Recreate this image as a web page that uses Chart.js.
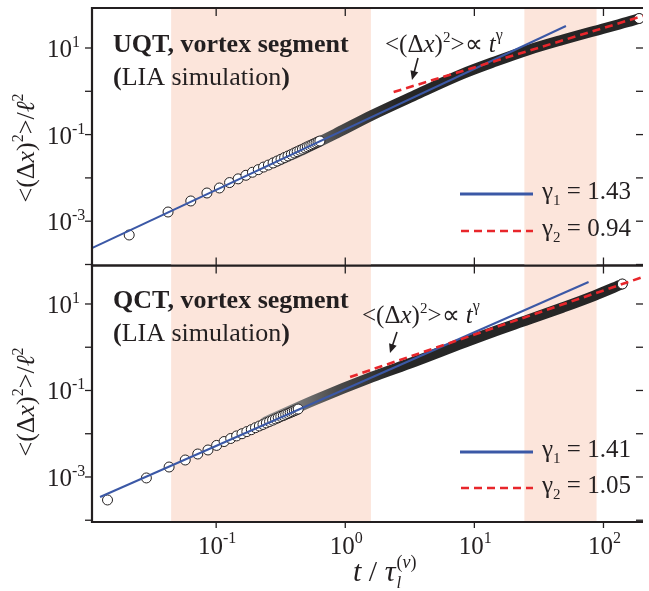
<!DOCTYPE html>
<html>
<head>
<meta charset="utf-8">
<script src="https://cdn.jsdelivr.net/npm/chart.js@4.4.0/dist/chart.umd.min.js"></script>
<style>
  body { margin: 0; background: #fff; }
  #wrap { position: relative; width: 649px; height: 591px; }
  canvas { position: absolute; left: 0; top: 0; }
</style>
</head>
<body>
<div id="wrap">
  <canvas id="qct" width="649" height="591"></canvas>
  <canvas id="uqt" width="649" height="591"></canvas>
</div>
<script>
// ---- data ----
// UQT panel: separate open circles, the dense band, last circle
const tCirclesUQT = [0.0212, 0.0424, 0.0636, 0.0848, 0.106, 0.127, 0.148, 0.170, 0.191, 0.212,
  0.233, 0.254, 0.276, 0.297, 0.318, 0.339, 0.360, 0.382, 0.403, 0.424,
  0.445, 0.466, 0.488, 0.509, 0.530, 0.551, 0.572, 0.594, 0.615, 0.636, 189];
const yCirclesUQT = [4.8e-4, 1.63e-3, 2.93e-3, 4.48e-3, 5.85e-3, 7.8e-3, 9.5e-3, 1.15e-2, 1.35e-2, 1.55e-2,
  1.78e-2, 1.98e-2, 2.21e-2, 2.45e-2, 2.70e-2, 2.96e-2, 3.21e-2, 3.48e-2, 3.76e-2, 4.04e-2,
  4.32e-2, 4.60e-2, 4.91e-2, 5.22e-2, 5.52e-2, 5.82e-2, 6.14e-2, 6.47e-2, 6.79e-2, 7.11e-2, 48];
const tBandUQT = [0.28, 0.43, 0.87, 1.61, 3.38, 8.17, 14.6, 26.2, 47.7, 85.3, 153, 189];
const yBandUQT = [0.0225, 0.0395, 0.110, 0.28, 0.78, 2.55, 4.9, 9.0, 15.3, 24.7, 39.8, 48];
const tFit1UQT = [0.0109, 51.2];
const yFit1UQT = [2.4e-4, 32.2];
const tFit2UQT = [2.37, 202];
const yFit2UQT = [0.964, 55];
const gammaUQT = ['1.43', '0.94'];

// QCT panel
const tCirclesQCT = [0.0144, 0.0288, 0.0432, 0.0576, 0.072, 0.0864, 0.1008, 0.1152, 0.1296, 0.144,
  0.1584, 0.1728, 0.1872, 0.2016, 0.216, 0.2304, 0.2448, 0.2592, 0.2736, 0.288,
  0.3024, 0.3168, 0.3312, 0.3456, 0.360, 0.3744, 0.3888, 0.4032, 0.4176, 0.432, 140];
const yCirclesQCT = [2.94e-4, 9.5e-4, 1.70e-3, 2.47e-3, 3.40e-3, 4.21e-3, 5.37e-3, 6.6e-3, 7.76e-3, 8.9e-3,
  1.0e-2, 1.12e-2, 1.24e-2, 1.38e-2, 1.51e-2, 1.64e-2, 1.78e-2, 1.92e-2, 2.06e-2, 2.20e-2,
  2.34e-2, 2.51e-2, 2.63e-2, 2.79e-2, 2.93e-2, 3.09e-2, 3.24e-2, 3.39e-2, 3.55e-2, 3.72e-2, 29];
const tBandQCT = [0.24, 0.578, 1.61, 3.38, 8.17, 14.6, 26.2, 47.7, 85.3, 140];
const yBandQCT = [0.0187, 0.060, 0.205, 0.456, 1.25, 2.38, 4.34, 8.2, 15.7, 29.0];
const tFit1QCT = [0.0126, 76.7];
const yFit1QCT = [3.45e-4, 32.3];
const tFit2QCT = [1.09, 202];
const yFit2QCT = [0.205, 42];
const gammaQCT = ['1.41', '1.05'];

// axes
const xTicks = [0.1, 1, 10, 100];
const xTickExp = ['-1', '0', '1', '2'];
const yTicksMajor = [10, 0.1, 0.001];
const yTickExp = ['1', '-1', '-3'];
const yTicksMinor = [1, 0.01, 0.0001];
const shadeSpans = [[0.0448, 1.58], [24.4, 88.4]];

// ---- style ----
const SERIF = '"Liberation Serif", "Times New Roman", serif';
const INK = '#231f20';
const BLUE = '#3b58a6';
const RED = '#e8262b';
const SHADE = '#fce5db';

function fnt(size, style) {
    return (style ? style + ' ' : '') + size + 'px ' + SERIF;
}

function pts(ts, ys) {
    return ts.map((t, i) => ({ x: t, y: ys[i] }));
}

// draw a run of text pieces [text, font, dy]
function rich(c, parts, x, y, align) {
    let w = 0;
    parts.forEach(p => { c.font = p[1]; w += c.measureText(p[0]).width; });
    let cx = align === 'center' ? x - w / 2 : (align === 'right' ? x - w : x);
    c.textAlign = 'left';
    c.textBaseline = 'alphabetic';
    parts.forEach(p => {
        c.font = p[1];
        c.fillText(p[0], cx, y + (p[2] || 0));
        cx += c.measureText(p[0]).width;
    });
    return cx;
}

function seg(c, x0, y0, x1, y1) {
    c.beginPath();
    c.moveTo(x0, y0);
    c.lineTo(x1, y1);
    c.stroke();
}

function arrow(c, x0, y0, x1, y1) {
    const ang = Math.atan2(y1 - y0, x1 - x0);
    c.lineWidth = 1.6;
    seg(c, x0, y0, x1 - 6 * Math.cos(ang), y1 - 6 * Math.sin(ang));
    c.beginPath();
    c.moveTo(x1, y1);
    c.lineTo(x1 - 9 * Math.cos(ang) + 4 * Math.sin(ang), y1 - 9 * Math.sin(ang) - 4 * Math.cos(ang));
    c.lineTo(x1 - 9 * Math.cos(ang) - 4 * Math.sin(ang), y1 - 9 * Math.sin(ang) + 4 * Math.cos(ang));
    c.closePath();
    c.fill();
}

function panelDeco(o) {
    return {
        id: 'deco',
        beforeDatasetsDraw(chart) {
            const c = chart.ctx, a = chart.chartArea, x = chart.scales.x;
            c.save();
            c.fillStyle = SHADE;
            shadeSpans.forEach(s => {
                const x0 = x.getPixelForValue(s[0]), x1 = x.getPixelForValue(s[1]);
                c.fillRect(x0, a.top, x1 - x0, a.bottom - a.top);
            });
            c.restore();
        },
        afterDatasetsDraw(chart) {
            const c = chart.ctx, a = chart.chartArea, x = chart.scales.x, y = chart.scales.y;
            c.save();
            c.strokeStyle = INK;
            c.fillStyle = INK;

            // frame
            c.lineWidth = 2.2;
            seg(c, a.left, a.top, a.right, a.top);
            seg(c, a.left, a.bottom, a.right, a.bottom);
            seg(c, a.left, a.top - 1.1, a.left, a.bottom + 1.1);

            // ticks
            c.lineWidth = 1.3;
            xTicks.forEach(v => {
                const px = x.getPixelForValue(v);
                seg(c, px, a.top, px, a.top + 8);
                seg(c, px, a.bottom, px, a.bottom + o.bottomTick);
            });
            yTicksMajor.concat(yTicksMinor).forEach(v => {
                const py = y.getPixelForValue(v);
                seg(c, a.left - 7, py, a.left, py);
                seg(c, a.right - 7, py, a.right, py);
            });

            // tick labels
            yTicksMajor.forEach((v, i) => {
                const py = y.getPixelForValue(v);
                rich(c, [['10', fnt(25)], [yTickExp[i], fnt(16), -10]], 47, py + 9, 'left');
            });
            if (o.xLabels) {
                xTicks.forEach((v, i) => {
                    const px = x.getPixelForValue(v);
                    rich(c, [['10', fnt(25)], [xTickExp[i], fnt(16), -11]], px + 1, 554, 'center');
                });
                // x axis title
                let cx = rich(c, [['t', fnt(30, 'italic')], [' / ', fnt(30)], ['τ', fnt(30, 'italic')]], 353, 581, 'left');
                rich(c, [['l', fnt(17, 'italic')]], cx + 1, 588, 'left');
                rich(c, [['(', fnt(18)], ['v', fnt(18, 'italic')], [')', fnt(18)]], cx + 1, 568, 'left');
            }

            // y axis title (rotated)
            c.save();
            c.translate(34, o.yTitle);
            c.rotate(-Math.PI / 2);
            rich(c, [['<(Δ', fnt(26)], ['x', fnt(26, 'italic')], [')', fnt(26)], ['2', fnt(16), -11],
                ['>/', fnt(26)], ['ℓ', fnt(26, 'italic')], ['2', fnt(16), -11]], 0, 0, 'center');
            c.restore();

            // panel title
            rich(c, [[o.title, fnt(26, 'bold')]], 113, o.titleY, 'left');
            rich(c, [['(', fnt(26, 'bold')], ['LIA simulation', fnt(26)], [')', fnt(26, 'bold')]], 113, o.titleY + 33, 'left');

            // annotation with arrow
            rich(c, [['<(Δ', fnt(25)], ['x', fnt(25, 'italic')], [')', fnt(25)], ['2', fnt(15), -10],
                ['>∝ ', fnt(25)], ['t', fnt(25, 'italic')], ['γ', fnt(16), -12]], o.ann[0], o.ann[1], 'left');
            arrow(c, o.arrow[0], o.arrow[1], o.arrow[2], o.arrow[3]);

            // legend
            c.lineWidth = 3;
            c.strokeStyle = BLUE;
            seg(c, 460, o.legY[0], 533, o.legY[0]);
            c.strokeStyle = RED;
            c.lineWidth = 2.6;
            c.setLineDash([8, 5]);
            seg(c, 461, o.legY[1], 533, o.legY[1]);
            c.setLineDash([]);
            c.fillStyle = INK;
            o.gamma.forEach((g, i) => {
                rich(c, [['γ', fnt(25)], [String(i + 1), fnt(15), 6], [' = ' + g, fnt(25)]], 542, o.legY[i] + 5, 'left');
            });
            c.restore();
        }
    };
}

function bandColor(ctx) {
    const ch = ctx.chart;
    if (!ch.chartArea) return '#262626';
    const xs = ch.scales.x;
    const g = ch.ctx.createLinearGradient(xs.getPixelForValue(0.3), 0, xs.getPixelForValue(2.5), 0);
    g.addColorStop(0, '#8f8f8f');
    g.addColorStop(0.5, '#4a4a4a');
    g.addColorStop(1, '#262626');
    return g;
}

function buildPanel(id, d, o) {
    return new Chart(document.getElementById(id), {
        type: 'scatter',
        data: {
            datasets: [
                { data: pts(d.t2, d.y2), showLine: true, borderColor: RED, borderWidth: 2.6, borderDash: [8, 5], pointRadius: 0 },
                { data: pts(d.t1, d.y1), showLine: true, borderColor: BLUE, borderWidth: 2, pointRadius: 0 },
                { data: pts(d.tc, d.yc), showLine: false, pointRadius: 5, pointBorderWidth: 1,
                  pointBorderColor: INK, pointBackgroundColor: '#ffffff' },
                { data: pts(d.tb, d.yb), showLine: true, borderColor: bandColor, borderWidth: 10.5,
                  borderCapStyle: 'round', cubicInterpolationMode: 'monotone', pointRadius: 0 }
            ]
        },
        options: {
            responsive: false,
            animation: false,
            events: [],
            layout: { padding: o.pad },
            plugins: { legend: { display: false }, tooltip: { enabled: false } },
            scales: {
                x: { type: 'logarithmic', display: false, bounds: 'data', min: 0.01092, max: 202.4 },
                y: { type: 'logarithmic', display: false, bounds: 'data', min: o.yMin, max: o.yMax }
            }
        },
        plugins: [panelDeco(o)]
    });
}

buildPanel('uqt',
    { tc: tCirclesUQT, yc: yCirclesUQT, tb: tBandUQT, yb: yBandUQT, t1: tFit1UQT, y1: yFit1UQT, t2: tFit2UQT, y2: yFit2UQT },
    { pad: { left: 92, top: 8, right: 0, bottom: 325.5 }, yMin: 9.48e-5, yMax: 83.9,
      bottomTick: -8, xLabels: false, yTitle: 148, title: 'UQT, vortex segment', titleY: 52,
      ann: [385, 52], arrow: [418, 58, 412, 80], legY: [194, 231], gamma: gammaUQT });

buildPanel('qct',
    { tc: tCirclesQCT, yc: yCirclesQCT, tb: tBandQCT, yb: yBandQCT, t1: tFit1QCT, y1: yFit1QCT, t2: tFit2QCT, y2: yFit2QCT },
    { pad: { left: 92, top: 265.5, right: 0, bottom: 69 }, yMin: 9.10e-5, yMax: 77.6,
      bottomTick: 6, xLabels: true, yTitle: 402, title: 'QCT, vortex segment', titleY: 308,
      ann: [362, 323], arrow: [397, 332, 390, 353], legY: [452, 488], gamma: gammaQCT });
</script>
</body>
</html>
